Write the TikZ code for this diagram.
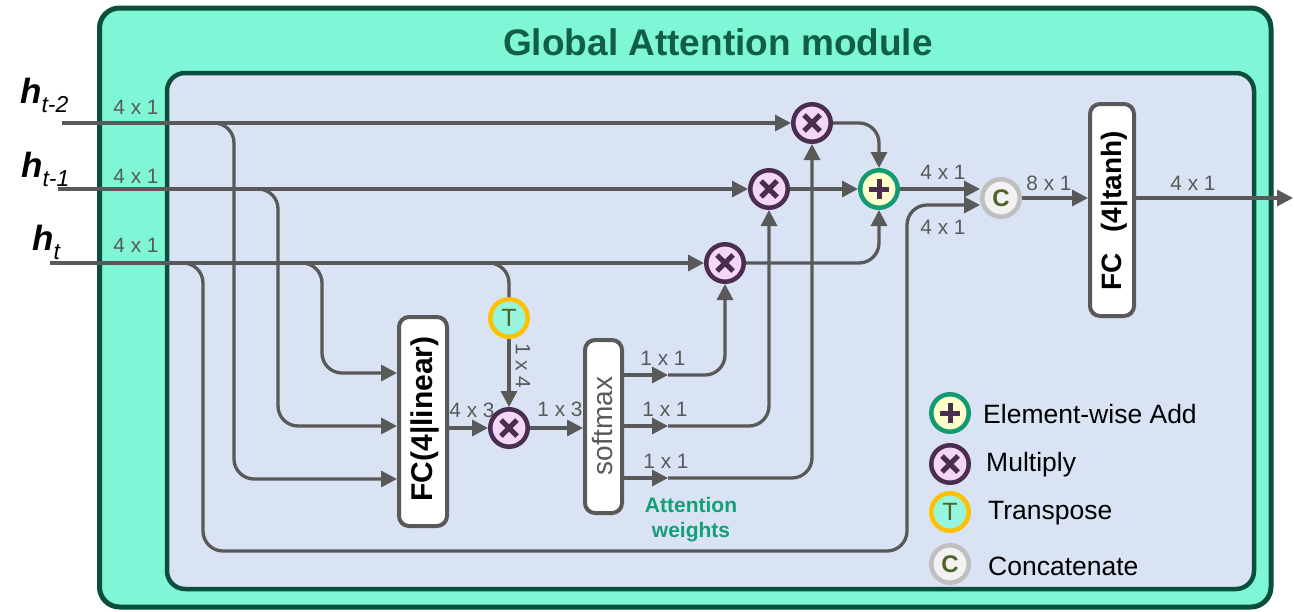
\documentclass[tikz,border=0pt]{standalone}
\usepackage{fontspec}
\setmainfont{Liberation Sans}
\usetikzlibrary{arrows.meta,calc}

\definecolor{outerfill}{HTML}{7FF6D6}
\definecolor{frame}{HTML}{0A4F3C}
\definecolor{innerfill}{HTML}{DAE3F3}
\definecolor{titlecol}{HTML}{115E47}
\definecolor{wire}{HTML}{595959}
\definecolor{mulfill}{HTML}{F3D6FA}
\definecolor{mulring}{HTML}{4B2D52}
\definecolor{addfill}{HTML}{FFFFCC}
\definecolor{addring}{HTML}{129B73}
\definecolor{tfill}{HTML}{96F5DC}
\definecolor{tring}{HTML}{FFC000}
\definecolor{cfill}{HTML}{F2F2F2}
\definecolor{cring}{HTML}{BFBFBF}
\definecolor{olive}{HTML}{4F6228}
\definecolor{attn}{HTML}{13A078}

\tikzset{
  wirestyle/.style={draw=wire, line width=3.3pt},
  arr/.style={wirestyle, -{Triangle[length=16pt,width=16pt]}},
  roundbend/.style={rounded corners=20pt},
  dimlabel/.style={text=wire, inner sep=0pt, font=\fontsize{20.8}{24}\selectfont},
  op/.style={circle, minimum size=37.5pt, inner sep=0pt, line width=4.5pt},
  mul/.style={op, fill=mulfill, draw=mulring,
    path picture={\draw[mulring, line width=5pt]
      ([shift={(-8pt,-8pt)}]path picture bounding box.center) -- ([shift={(8pt,8pt)}]path picture bounding box.center)
      ([shift={(-8pt,8pt)}]path picture bounding box.center) -- ([shift={(8pt,-8pt)}]path picture bounding box.center);}},
  add/.style={op, fill=addfill, draw=addring,
    path picture={\draw[mulring, line width=5pt]
      ([shift={(-10pt,0pt)}]path picture bounding box.center) -- ([shift={(10pt,0pt)}]path picture bounding box.center)
      ([shift={(0pt,10pt)}]path picture bounding box.center) -- ([shift={(0pt,-10pt)}]path picture bounding box.center);}},
  trans/.style={op, fill=tfill, draw=tring, text=olive, font=\fontsize{25}{25}\selectfont},
  concat/.style={op, fill=cfill, draw=cring, text=olive, font=\bfseries\fontsize{24}{24}\selectfont},
  blockbox/.style={draw=wire, fill=white, line width=4pt, rounded corners=10pt, inner sep=0pt},
  legendtext/.style={anchor=west, inner sep=0pt, font=\fontsize{26.5}{30}\selectfont},
}

\begin{document}
\begin{tikzpicture}[x=1pt, y=-1pt]
\useasboundingbox (0,0) rectangle (1294,611);

% module frames
\draw[draw=frame, fill=outerfill, line width=5pt, rounded corners=20pt] (99.5,8) rectangle (1271,607);
\draw[draw=frame, fill=innerfill, line width=4.5pt, rounded corners=18pt] (167,73) rectangle (1254,589);
\node[text=titlecol, font=\bfseries\fontsize{37}{40}\selectfont] (title) at (718,42) {Global Attention module};

% input labels
\node[anchor=base west, inner sep=0pt] (hlab2) at (20,103)
  {\fontsize{35}{35}\selectfont\bfseries\itshape h\raisebox{-9pt}{\fontsize{23}{23}\selectfont\mdseries t-2}};
\node[anchor=base west, inner sep=0pt] (hlab1) at (21,177)
  {\fontsize{35}{35}\selectfont\bfseries\itshape h\raisebox{-9pt}{\fontsize{23}{23}\selectfont\mdseries t-1}};
\node[anchor=base west, inner sep=0pt] (hlab0) at (32,250)
  {\fontsize{35}{35}\selectfont\bfseries\itshape h\raisebox{-9pt}{\fontsize{23}{23}\selectfont\mdseries t}};

\coordinate (in2) at (62,123);
\coordinate (in1) at (58,189);
\coordinate (in0) at (50,263);

% operators
\node[mul] (M1) at (812,123) {};
\node[mul] (M2) at (769,189) {};
\node[mul] (M3) at (725,263) {};
\node[add] (Add) at (879,189) {};
\node[concat] (C) at (1001,198) {C};
\node[trans] (T) at (509,318) {T};
\node[mul] (M4) at (509,428) {};

% blocks
\node[blockbox, minimum width=48pt, minimum height=209pt] (FCl) at (423,421.5) {};
\node[rotate=90, inner sep=0pt, font=\bfseries\fontsize{30}{30}\selectfont] (FCltext) at (425,419) {FC(4|linear)};
\node[blockbox, minimum width=37pt, minimum height=173pt] (SM) at (603.5,426.5) {};
\node[rotate=90, inner sep=0pt, text=wire, font=\fontsize{28}{28}\selectfont] (SMtext) at (602,426) {softmax};
\node[blockbox, minimum width=44pt, minimum height=212pt] (FCt) at (1112,210) {};
\node[rotate=90, inner sep=0pt, font=\bfseries\fontsize{28}{28}\selectfont] (FCttext) at (1114,211) {FC\hspace{0.75em}(4|tanh)};

% main input lines
\draw[arr] (in2) -- (M1);
\draw[arr] (in1) -- (M2);
\draw[arr] (in0) -- (M3);

% branches into FC(4|linear)
\coordinate (b2) at (212,123);
\coordinate (b1) at (257,189);
\coordinate (b0a) at (300,263);
\coordinate (b0b) at (180,263);
\coordinate (bt) at (487,263);
\draw[arr, roundbend] (b2) -- (234,123) -- (234,479) -- (FCl.west |- 0,479);
\draw[arr, roundbend] (b1) -- (278,189) -- (278,426) -- (FCl.west |- 0,426);
\draw[arr, roundbend] (b0a) -- (322,263) -- (322,373) -- (FCl.west |- 0,373);
% skip path of h_t to the concatenation
\draw[arr, roundbend] (b0b) -- (203,263) -- (203,551) -- (907,551) -- (907,205) -- (C.west |- 0,205);
% transpose branch
\draw[wirestyle, roundbend] (bt) -- (509,263) -- (T);
\draw[arr] (T) -- (M4);
\node[dimlabel, rotate=-90] (l14) at (523,366) {1 x 4};

% scores and softmax
\draw[arr] (FCl.east |- M4) -- (M4);
\draw[arr] (M4) -- (M4 -| SM.west);
\node[dimlabel] (l43) at (472,410) {4 x 3};
\node[dimlabel] (l13) at (560,409) {1 x 3};

\coordinate (s1) at (668,375);
\coordinate (s2) at (668,426);
\coordinate (s3) at (668,478);
\draw[arr] (SM.east |- s1) -- (s1);
\draw[arr] (SM.east |- s2) -- (s2);
\draw[arr] (SM.east |- s3) -- (s3);
\draw[arr, roundbend] (s1) -| (M3);
\draw[arr, roundbend] (s2) -| (M2);
\draw[arr, roundbend] (s3) -| (M1);
\node[dimlabel] (w1) at (663,358) {1 x 1};
\node[dimlabel] (w2) at (665,409) {1 x 1};
\node[dimlabel] (w3) at (666,461) {1 x 1};
\node[text=attn, align=center, inner sep=0pt, font=\bfseries\fontsize{21}{25}\selectfont] (attw) at (691,520) {Attention\\weights};

% weighted sum
\draw[arr, roundbend] (M1) -| (Add);
\draw[arr] (M2) -- (Add);
\draw[arr, roundbend] (M3) -| (Add);

% concatenation and output
\draw[arr] (Add.east) -- (Add.east -| C.west);
\draw[arr] (C) -- (C -| FCt.west);
\coordinate (out) at (1293,198);
\draw[arr] (FCt.east |- out) -- (out);

% dimension labels
\node[dimlabel] (d2) at (136,107) {4 x 1};
\node[dimlabel] (d1) at (136,176) {4 x 1};
\node[dimlabel] (d0) at (136,245) {4 x 1};
\node[dimlabel] (da) at (943,172) {4 x 1};
\node[dimlabel] (db) at (943,227) {4 x 1};
\node[dimlabel] (dc) at (1049,183) {8 x 1};
\node[dimlabel] (dd) at (1193,183) {4 x 1};

% legend
\node[add] (L1) at (950,413) {};
\node[mul] (L2) at (950,464) {};
\node[trans] (L3) at (950,512) {T};
\node[concat] (L4) at (950,564) {C};
\node[legendtext] (L1t) at (983,414) {Element-wise Add};
\node[legendtext] (L2t) at (986,465) {Multiply};
\node[legendtext] (L3t) at (988,513) {Transpose};
\node[legendtext] (L4t) at (988,566) {Concatenate};
\end{tikzpicture}
\end{document}
